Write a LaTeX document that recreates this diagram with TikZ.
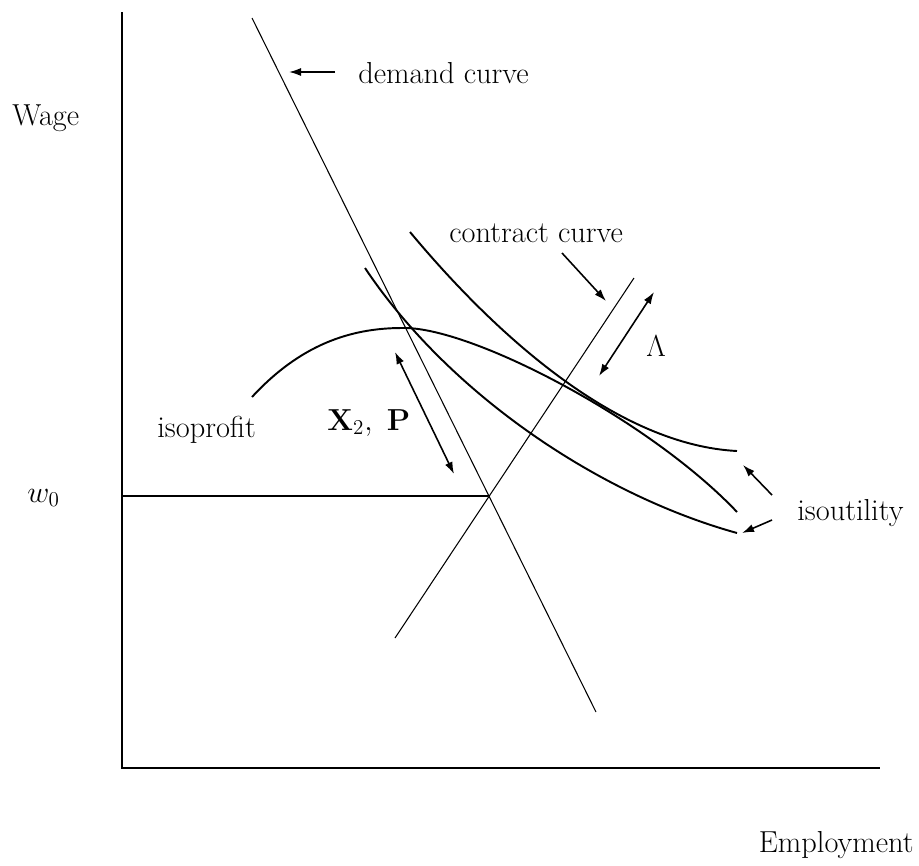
\documentclass[tikz,border=0pt]{standalone}
\usepackage{amsmath,amssymb}
\usepackage{tikz}
\usetikzlibrary{arrows.meta,positioning}
\tikzset{
  axln/.style={line width=1.6pt},
  schln/.style={line width=0.6pt},
  indiff/.style={line width=1.1pt},
  lblarr/.style={-{Latex[length=2.4mm,width=1.6mm]}, line width=0.9pt},
  dblarr/.style={{Latex[length=2.4mm,width=1.6mm]}-{Latex[length=2.4mm,width=1.6mm]}, line width=0.9pt},
  txt/.style={font=\LARGE, inner sep=0pt, anchor=base west},
}

\begin{document}
\begin{tikzpicture}[x=0.2mm, y=-0.2mm]
        \useasboundingbox (0,0) rectangle (919,865);
        % axes
        \coordinate (o) at (122,768);
        \coordinate (ytop) at (122,12);
        \coordinate (xend) at (880,768);
        \draw[axln] (ytop) -- (o) -- (xend);
        % demand and contract lines, reservation wage
        \coordinate (d1) at (252,18); \coordinate (d2) at (596,712);
        \coordinate (c1) at (395,638); \coordinate (c2) at (634,278);
        \draw[schln] (d1) -- (d2);
        \draw[schln] (c1) -- (c2);
        \coordinate (w1) at (122,496); \coordinate (w2) at (488,496);
        \draw[axln] (w1) -- (w2);
        % isoprofit and isoutility curves
        \coordinate (pk) at (402,328);
        \draw[indiff] (252,397) .. controls (300,345) and (350,328) .. (pk)
          .. controls (470,326) and (650,420) .. (737,512);
        \draw[indiff] (410,232) .. controls (500,340) and (620,445) .. (737,451);
        \draw[indiff] (365,268) .. controls (450,395) and (600,495) .. (737,533);
        % labels
        \node[txt] (wage) at (12,125) {Wage};
        \node[txt, anchor=base east] (emp) at (914,852) {Employment};
        \node[txt] (wzero) at (27,502) {$w_0$};
        \node[txt] (dem) at (358,83) {demand curve};
        \node[txt] (con) at (449,242) {contract curve};
        \node[txt] (lam) at (646,356) {$\Lambda$};
        \node[txt] (xp) at (327,430) {$\mathbf{X}_2,\ \mathbf{P}$};
        \node[txt] (ipr) at (157,437) {isoprofit};
        \node[txt] (iut) at (797,520) {isoutility};
        % pointers
        \coordinate (da) at (335,72); \coordinate (db) at (289,72);
        \draw[lblarr] (da) -- (db);
        \coordinate (ca) at (562,253); \coordinate (cb) at (606,301);
        \draw[lblarr] (ca) -- (cb);
        \coordinate (la) at (599,376); \coordinate (lb) at (654,292);
        \draw[dblarr] (la) -- (lb);
        \coordinate (xa) at (395,352); \coordinate (xb) at (454,474);
        \draw[dblarr] (xa) -- (xb);
        \coordinate (ua) at (772,495); \coordinate (ub) at (743,465);
        \draw[lblarr] (ua) -- (ub);
        \coordinate (uc) at (772,520); \coordinate (ud) at (742,533);
        \draw[lblarr] (uc) -- (ud);
      \end{tikzpicture}
\end{document}
